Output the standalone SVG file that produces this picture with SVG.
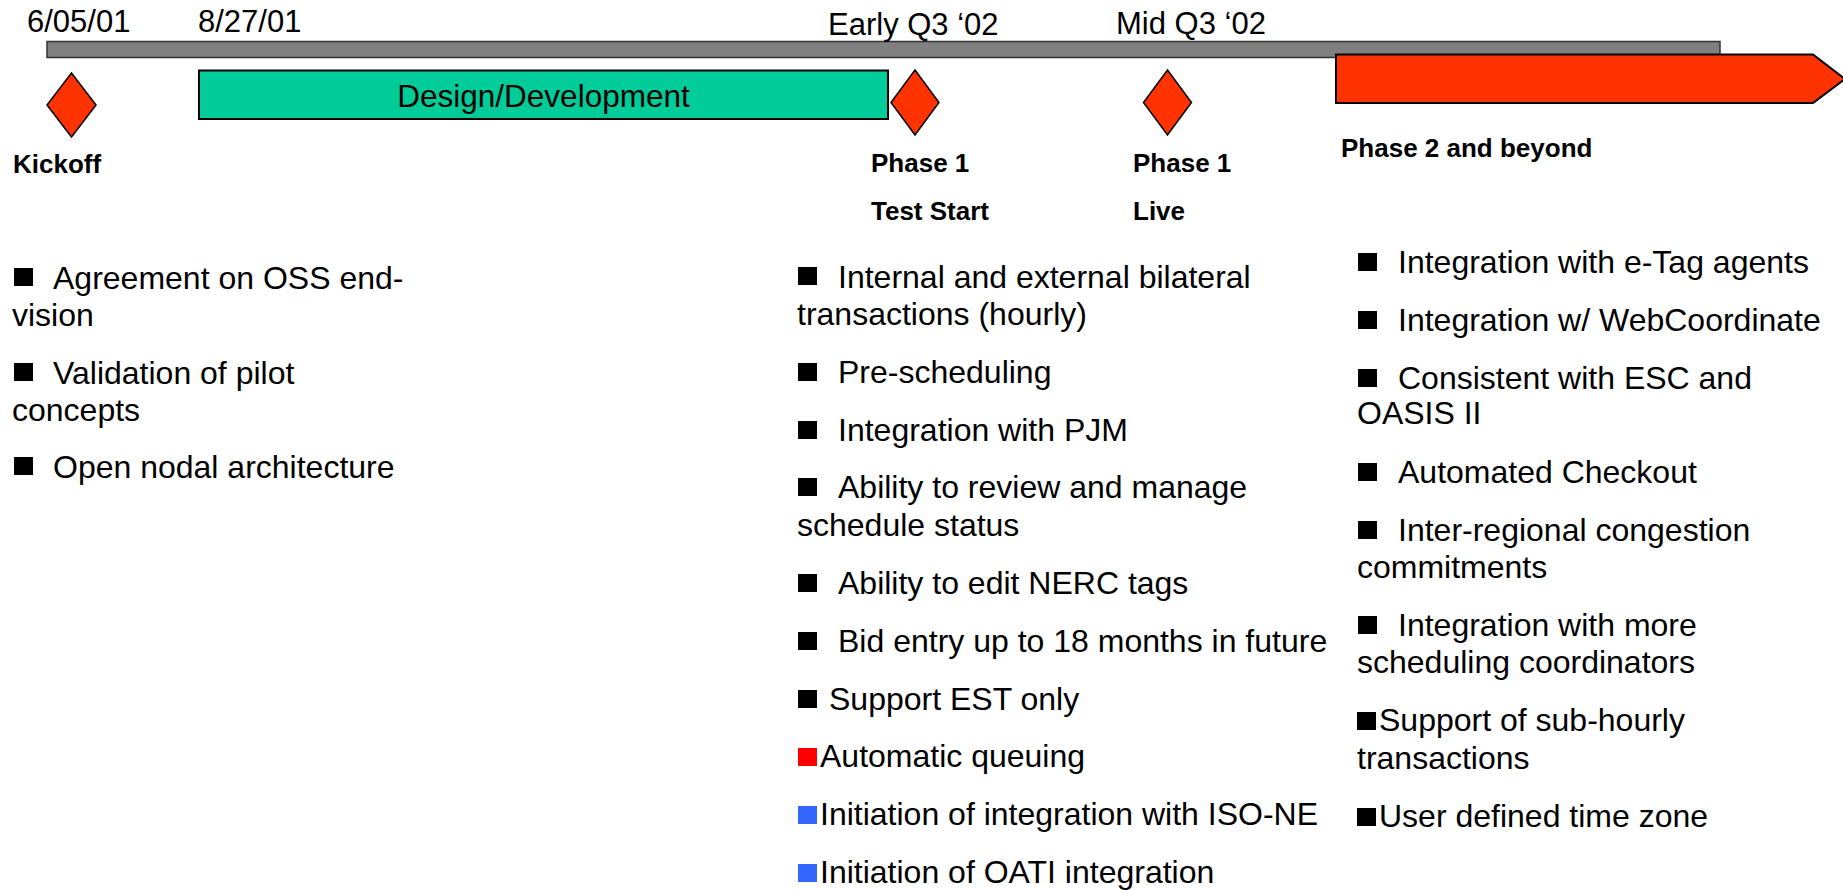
<svg xmlns="http://www.w3.org/2000/svg" width="1843" height="890" viewBox="0 0 1843 890">
<style>
text{font-family:"Liberation Sans",Arial,sans-serif;fill:#000}
.date{font-size:31px}
.lbl{font-size:26px;font-weight:bold}
.item{font-size:32px}
.dia{fill:#FF3300;stroke:#000;stroke-width:1.5}
.b{fill:#000}
.br{fill:#FF0000}
.bb{fill:#3366FF}
</style>
<rect width="1843" height="890" fill="#fff"/>
<g id="timeline">
<rect x="47" y="41.5" width="1673" height="16" fill="#808080" stroke="#333" stroke-width="1.5"/>
</g>
<g id="dates">
<text class="date" x="27" y="32">6/05/01</text>
<text class="date" x="198" y="32">8/27/01</text>
<text class="date" x="828" y="35" font-size="31.5">Early Q3 ‘02</text>
<text class="date" x="1116" y="34">Mid Q3 ‘02</text>
</g>
<g id="kickoff">
<polygon class="dia" points="71.5,73 96,105 71.5,137 47,105"/>
<text class="lbl" x="13" y="173">Kickoff</text>
</g>
<g id="design">
<rect x="199" y="70.5" width="689" height="48.5" fill="#00CC99" stroke="#000" stroke-width="2"/>
<text x="543.5" y="107" font-size="31.5" text-anchor="middle">Design/Development</text>
</g>
<g id="phase1-test">
<polygon class="dia" points="915,70 939,102.5 915,135 891,102.5"/>
<text class="lbl" x="871" y="172">Phase 1</text>
<text class="lbl" x="871" y="220">Test Start</text>
</g>
<g id="phase1-live">
<polygon class="dia" points="1167.5,70 1191.5,102.5 1167.5,135 1143.5,102.5"/>
<text class="lbl" x="1133" y="172">Phase 1</text>
<text class="lbl" x="1133" y="220">Live</text>
</g>
<g id="phase2">
<polygon points="1336,54.5 1813,54.5 1845,79 1813,103 1336,103" fill="#FF3300" stroke="#000" stroke-width="2"/>
<text class="lbl" x="1341" y="157">Phase 2 and beyond</text>
</g>
<g id="list-kickoff">
<rect class="b" x="14" y="268" width="19" height="18"/>
<text class="item" x="53" y="289">Agreement on OSS end-</text>
<text class="item" x="12" y="326">vision</text>
<rect class="b" x="14" y="363" width="19" height="18"/>
<text class="item" x="53" y="384">Validation of pilot</text>
<text class="item" x="12" y="421">concepts</text>
<rect class="b" x="14" y="457" width="19" height="18"/>
<text class="item" x="53" y="478">Open nodal architecture</text>
</g>
<g id="list-phase1">
<rect class="b" x="798" y="267" width="19" height="18"/>
<text class="item" x="838" y="288">Internal and external bilateral</text>
<text class="item" x="797" y="325">transactions (hourly)</text>
<rect class="b" x="798" y="363" width="19" height="18"/>
<text class="item" x="838" y="383">Pre-scheduling</text>
<rect class="b" x="798" y="421" width="19" height="18"/>
<text class="item" x="838" y="441">Integration with PJM</text>
<rect class="b" x="798" y="478" width="19" height="18"/>
<text class="item" x="838" y="498">Ability to review and manage</text>
<text class="item" x="797" y="536">schedule status</text>
<rect class="b" x="798" y="574" width="19" height="18"/>
<text class="item" x="838" y="594">Ability to edit NERC tags</text>
<rect class="b" x="798" y="632" width="19" height="18"/>
<text class="item" x="838" y="652">Bid entry up to 18 months in future</text>
<rect class="b" x="798" y="690" width="19" height="18"/>
<text class="item" x="829" y="710">Support EST only</text>
<rect class="br" x="798" y="748" width="19" height="18"/>
<text class="item" x="820" y="767">Automatic queuing</text>
<rect class="bb" x="798" y="806" width="19" height="18"/>
<text class="item" x="820" y="825">Initiation of integration with ISO-NE</text>
<rect class="bb" x="798" y="864" width="19" height="18"/>
<text class="item" x="820" y="883">Initiation of OATI integration</text>
</g>
<g id="list-phase2">
<rect class="b" x="1358" y="253" width="19" height="18"/>
<text class="item" x="1398" y="273">Integration with e-Tag agents</text>
<rect class="b" x="1358" y="311" width="19" height="18"/>
<text class="item" x="1398" y="331">Integration w/ WebCoordinate</text>
<rect class="b" x="1358" y="369" width="19" height="18"/>
<text class="item" x="1398" y="389">Consistent with ESC and</text>
<text class="item" x="1357" y="424">OASIS II</text>
<rect class="b" x="1358" y="463" width="19" height="18"/>
<text class="item" x="1398" y="483">Automated Checkout</text>
<rect class="b" x="1358" y="521" width="19" height="18"/>
<text class="item" x="1398" y="541">Inter-regional congestion</text>
<text class="item" x="1357" y="578">commitments</text>
<rect class="b" x="1358" y="616" width="19" height="18"/>
<text class="item" x="1398" y="636">Integration with more</text>
<text class="item" x="1357" y="673">scheduling coordinators</text>
<rect class="b" x="1357" y="712" width="19" height="18"/>
<text class="item" x="1379" y="731">Support of sub-hourly</text>
<text class="item" x="1357" y="769">transactions</text>
<rect class="b" x="1357" y="808" width="19" height="18"/>
<text class="item" x="1379" y="827">User defined time zone</text>
</g>
</svg>
